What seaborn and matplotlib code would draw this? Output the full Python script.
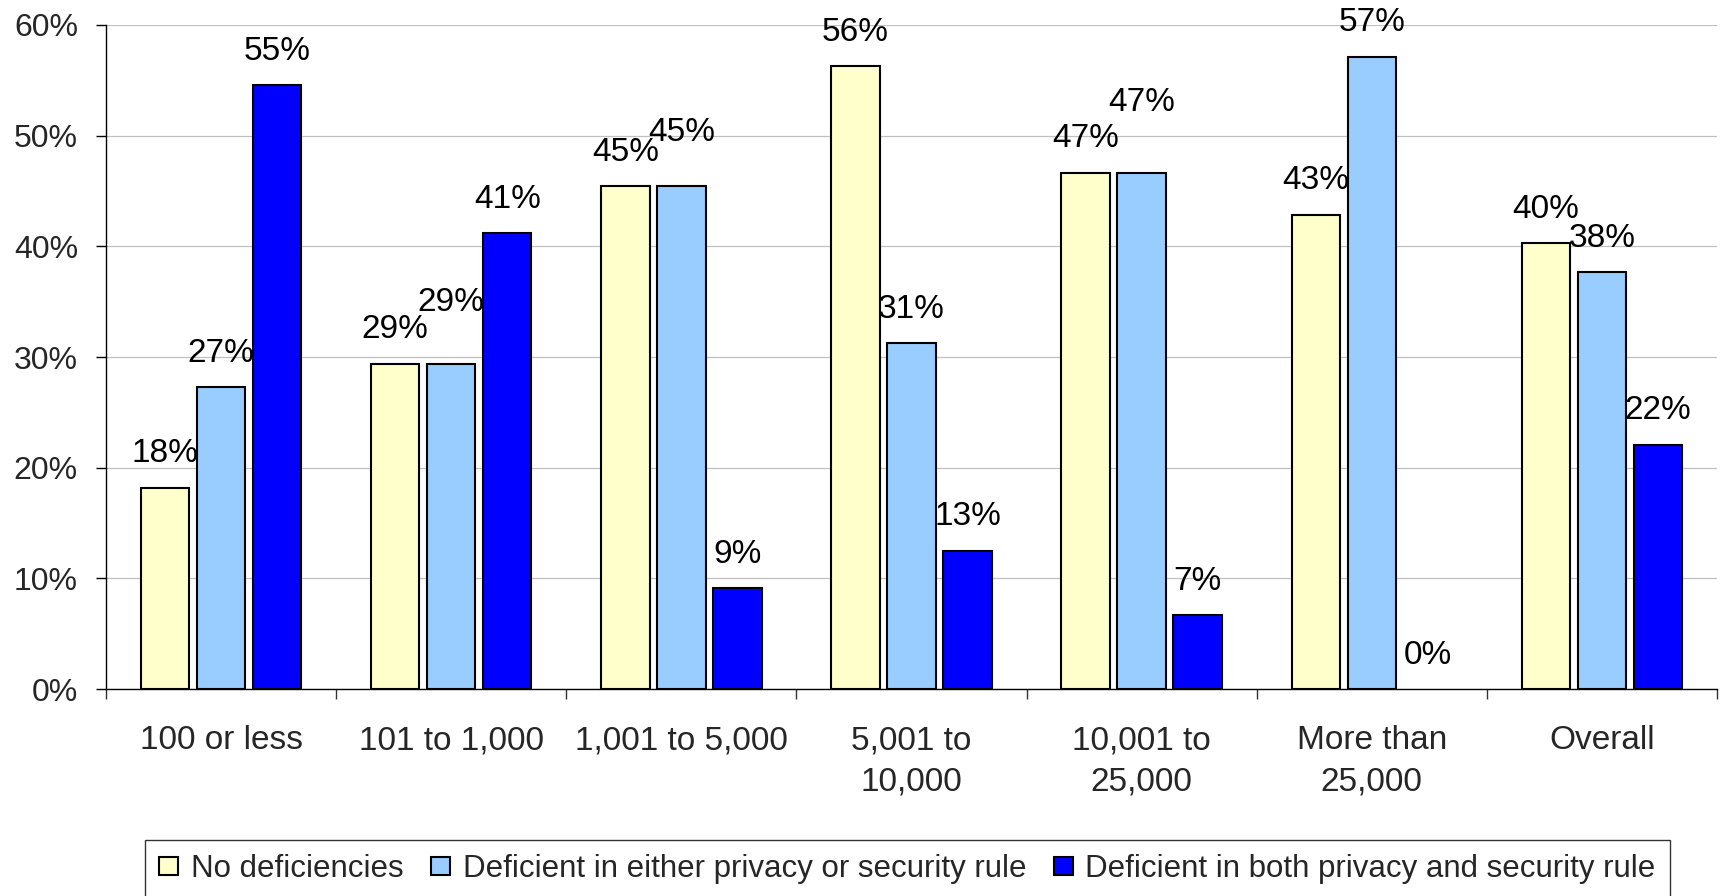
import numpy as np
import pandas as pd
import matplotlib
matplotlib.use("Agg")
import matplotlib.pyplot as plt
import seaborn as sns
from matplotlib.patches import Patch

# ---------------- data ----------------
categories = ["100 or less", "101 to 1,000", "1,001 to 5,000", "5,001 to\n10,000",
              "10,001 to\n25,000", "More than\n25,000", "Overall"]
series_names = ["No deficiencies",
                "Deficient in either privacy or security rule",
                "Deficient in both privacy and security rule"]
no_deficiencies = [18.18, 29.41, 45.45, 56.25, 46.67, 42.86, 40.26]
deficient_either = [27.27, 29.41, 45.45, 31.25, 46.67, 57.14, 37.66]
deficient_both = [54.55, 41.18, 9.09, 12.50, 6.67, 0.0, 22.08]
y_ticks = [0, 10, 20, 30, 40, 50, 60]
y_tick_labels = ["0%", "10%", "20%", "30%", "40%", "50%", "60%"]

# ---------------- style ----------------
colors = ["#FFFFCC", "#99CCFF", "#0000FF"]
sns.set_style("white")
plt.rcParams["font.family"] = ["Liberation Sans", "DejaVu Sans"]

df = pd.DataFrame({
    "size": np.repeat(categories, 3),
    "status": series_names * len(categories),
    "pct": np.column_stack([no_deficiencies, deficient_either, deficient_both]).ravel(),
})

fig = plt.figure(figsize=(17.2, 8.96), dpi=100)
ax = fig.add_axes([106 / 1720, 1 - 689 / 896, (1717 - 106) / 1720, (689 - 25) / 896])

sns.barplot(data=df, x="size", y="pct", hue="status", order=categories,
            hue_order=series_names, palette=colors, saturation=1, width=0.73, gap=0.136,
            edgecolor="black", linewidth=1.5, ax=ax, legend=False, zorder=3)

ax.set_xlim(-0.5, len(categories) - 0.5)
ax.set_ylim(0, 60)
ax.set_yticks(y_ticks)
ax.set_yticklabels(y_tick_labels)
ax.set_xlabel("")
ax.set_ylabel("")

ax.yaxis.grid(True, color="#C0C0C0", linewidth=0.9, zorder=0)
ax.set_axisbelow(True)
for s in ["top", "right"]:
    ax.spines[s].set_visible(False)
for s in ["left", "bottom"]:
    ax.spines[s].set_color("black")
    ax.spines[s].set_linewidth(1.0)

ax.tick_params(axis="y", which="major", length=7.2, width=1.0, color="black",
               direction="out", pad=13, labelsize=23, left=True)
ax.tick_params(axis="x", which="major", length=0, pad=26, labelsize=24)
ax.set_xticks(np.arange(-0.5, len(categories), 1.0), minor=True)
ax.tick_params(axis="x", which="minor", length=7.2, width=1.0, color="#333333",
               direction="out", bottom=True)
for lbl in ax.get_xticklabels():
    lbl.set_linespacing(1.43)

# value labels (extra upward nudges in px where labels were displaced to avoid overlap)
nudges_px = {(1, 1): 27, (2, 1): 20, (4, 1): 36}
px2pt = 72 / 100
for hi, cont in enumerate(ax.containers):
    for ci, bar in enumerate(cont):
        h = bar.get_height()
        if h == 0:
            bar.set_linewidth(0)
        xc = bar.get_x() + bar.get_width() / 2
        off = 34 + nudges_px.get((ci, hi), 0)
        ax.annotate(f"{int(np.floor(h + 0.5))}%", (xc, h), xytext=(0, off * px2pt),
                    textcoords="offset points", ha="center", va="center",
                    fontsize=24, color="black", zorder=5)

handles = [Patch(facecolor=c, edgecolor="black", linewidth=1.5) for c in colors]
leg = fig.legend(handles, series_names, loc="upper center", ncol=3,
                 bbox_to_anchor=(0.5276, 1 - 840 / 896), fontsize=22.5,
                 frameon=True, fancybox=False, shadow=False, edgecolor="black",
                 handlelength=0.6, handleheight=0.55, handletextpad=0.4,
                 columnspacing=0.9, borderpad=0.45, borderaxespad=0)
leg.get_frame().set_linewidth(1.0)

fig.savefig("out.png", dpi=100, facecolor="white")
